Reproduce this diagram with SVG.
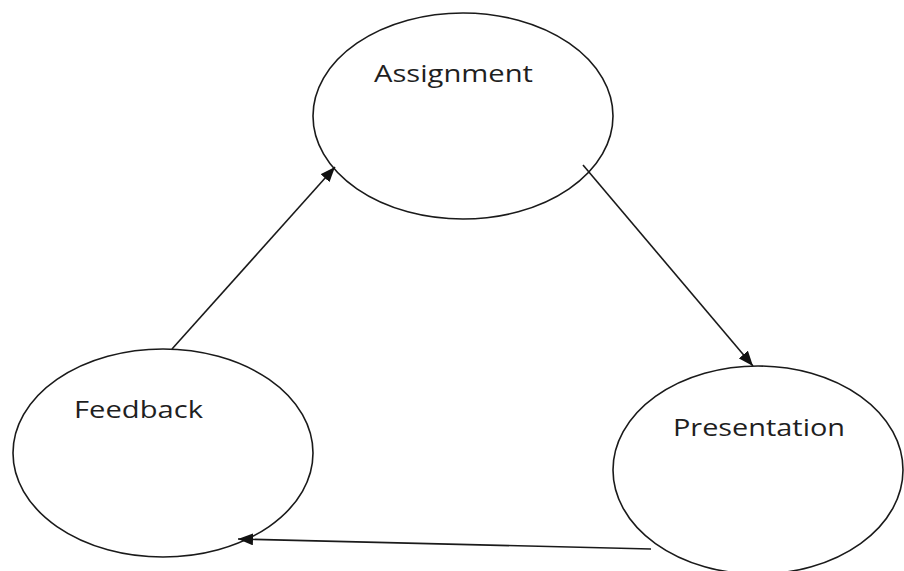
<svg xmlns="http://www.w3.org/2000/svg" width="904" height="571" viewBox="0 0 904 571">
  <style>
    .node ellipse { fill: #ffffff; stroke: #1a1a1a; stroke-width: 1.6; }
    .node text { font-family: "Open Sans", "Liberation Sans", sans-serif; font-size: 24px; fill: #1f1f1f; }
    .edge { stroke: #1a1a1a; stroke-width: 1.6; fill: none; marker-end: url(#head); }
  </style>
  <defs>
    <marker id="head" markerUnits="userSpaceOnUse" markerWidth="16" markerHeight="12" refX="15" refY="6" orient="auto">
      <path d="M0,0 L15,6 L0,12 Z" fill="#111111"/>
    </marker>
  </defs>
  <rect width="904" height="571" fill="#ffffff"/>

  <g id="assignment" class="node">
    <ellipse cx="463" cy="116" rx="150" ry="103"/>
    <text x="374" y="82" textLength="159" lengthAdjust="spacingAndGlyphs">Assignment</text>
  </g>

  <g id="feedback" class="node">
    <ellipse cx="163" cy="453" rx="150" ry="104"/>
    <text x="74" y="418" textLength="129" lengthAdjust="spacingAndGlyphs">Feedback</text>
  </g>

  <g id="presentation" class="node">
    <ellipse cx="758" cy="470" rx="145" ry="104"/>
    <text x="673" y="436" textLength="172" lengthAdjust="spacingAndGlyphs">Presentation</text>
  </g>

  <g id="connectors">
    <line class="edge" x1="172" y1="349" x2="335" y2="167"/>
    <line class="edge" x1="583" y1="165" x2="753" y2="366"/>
    <line class="edge" x1="651" y1="549" x2="238" y2="539"/>
  </g>
</svg>
